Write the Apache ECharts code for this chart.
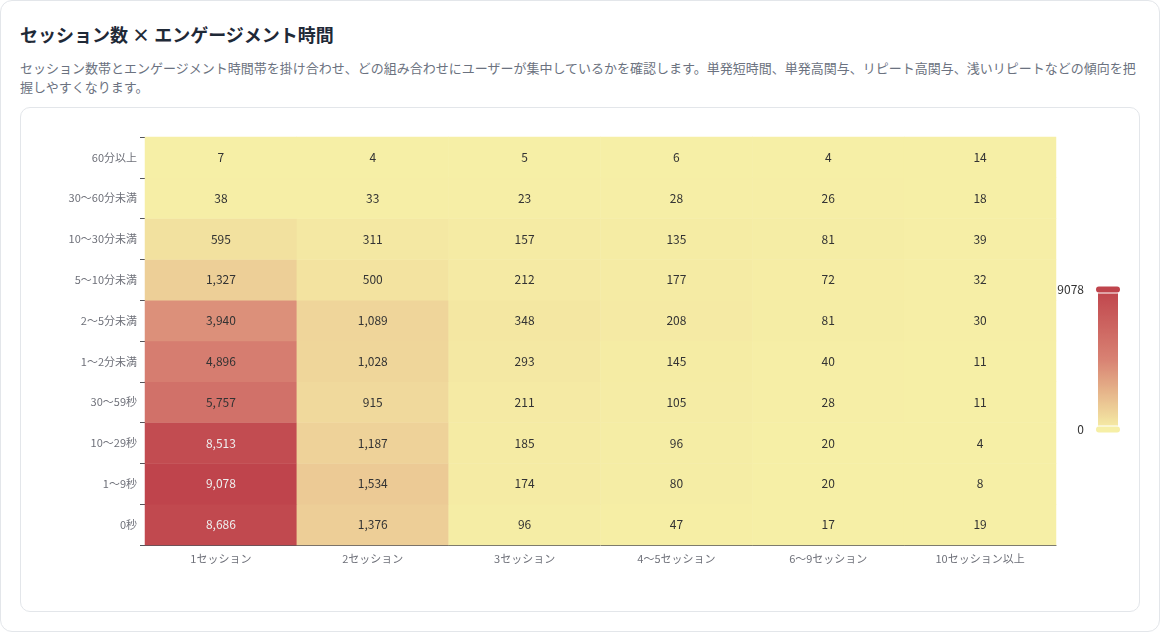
<!DOCTYPE html>
<html lang="ja">
<head>
<meta charset="utf-8">
<title>セッション数 × エンゲージメント時間</title>
<script src="https://cdn.jsdelivr.net/npm/echarts@6/dist/echarts.min.js"></script>
<style>
  html, body { margin: 0; padding: 0; background: #fff; }
  body { font-family: "Noto Sans CJK JP", "Noto Sans", sans-serif; }
  .card {
    position: absolute; left: 0; top: 0;
    width: 1160px; height: 632px; box-sizing: border-box;
    border: 1px solid #e3e6ea; border-radius: 12px;
    padding: 19px 19px 0 19px;
  }
  .card h2 {
    margin: 0; font-size: 18px; line-height: 28px; font-weight: 700; color: #1f2937;
  }
  .card p {
    margin: 10px 0 0 0; font-size: 13px; line-height: 19px; color: #6b7280;
  }
  .box {
    margin-top: 11px; width: 1120px; height: 505px; box-sizing: border-box;
    border: 1px solid #e3e6ea; border-radius: 10px;
  }
  #chart { width: 1118px; height: 503px; }
</style>
</head>
<body>
<div class="card">
  <h2>セッション数 × エンゲージメント時間</h2>
  <p>セッション数帯とエンゲージメント時間帯を掛け合わせ、どの組み合わせにユーザーが集中しているかを確認します。単発短時間、単発高関与、リピート高関与、浅いリピートなどの傾向を把握しやすくなります。</p>
  <div class="box"><div id="chart"></div></div>
</div>
<script>
// 列: セッション数帯 / 行: エンゲージメント時間帯（下から上）
var sessionBands = ['1セッション', '2セッション', '3セッション', '4〜5セッション', '6〜9セッション', '10セッション以上'];
var timeBands = ['0秒', '1〜9秒', '10〜29秒', '30〜59秒', '1〜2分未満', '2〜5分未満', '5〜10分未満', '10〜30分未満', '30〜60分未満', '60分以上'];

// 各時間帯の行（sessionBandsの順）
var row0s     = [8686, 1376, 96, 47, 17, 19];
var row1to9s  = [9078, 1534, 174, 80, 20, 8];
var row10to29 = [8513, 1187, 185, 96, 20, 4];
var row30to59 = [5757, 915, 211, 105, 28, 11];
var row1to2m  = [4896, 1028, 293, 145, 40, 11];
var row2to5m  = [3940, 1089, 348, 208, 81, 30];
var row5to10m = [1327, 500, 212, 177, 72, 32];
var row10to30 = [595, 311, 157, 135, 81, 39];
var row30to60 = [38, 33, 23, 28, 26, 18];
var row60plus = [7, 4, 5, 6, 4, 14];

var rows = [row0s, row1to9s, row10to29, row30to59, row1to2m, row2to5m, row5to10m, row10to30, row30to60, row60plus];

var cells = [];
rows.forEach(function (row, y) {
    row.forEach(function (v, x) {
        cells.push([x, y, v]);
    });
});
var maxVal = Math.max.apply(null, cells.map(function (c) { return c[2]; }));

var myChart = echarts.init(document.getElementById('chart'));
var option = {
    textStyle: { fontFamily: '"Noto Sans CJK JP", "Noto Sans", sans-serif' },
    tooltip: { position: 'top' },
    grid: { left: 124, right: 83, top: 29, bottom: 66 },
    xAxis: {
        type: 'category',
        data: sessionBands,
        splitArea: { show: false },
        axisLabel: { color: '#6e7079', fontSize: 11 }
    },
    yAxis: {
        type: 'category',
        data: timeBands,
        splitArea: { show: false },
        axisLine: { show: false },
        axisTick: { show: true },
        axisLabel: { color: '#6e7079', fontSize: 11 }
    },
    visualMap: {
        min: 0,
        max: maxVal,
        calculable: true,
        orient: 'vertical',
        right: 3,
        top: 'middle',
        itemHeight: 140,
        itemWidth: 20,
        inRange: { color: ['#f6efa6', '#d88273', '#bf444c'] },
        textStyle: { color: '#333', fontSize: 12 }
    },
    series: [{
        type: 'heatmap',
        data: cells,
        label: {
            show: true,
            fontSize: 12,
            formatter: function (p) { return p.value[2].toLocaleString('en-US'); }
        },
        emphasis: {
            itemStyle: { shadowBlur: 10, shadowColor: 'rgba(0, 0, 0, 0.5)' }
        }
    }]
};
myChart.setOption(option);
</script>
</body>
</html>
